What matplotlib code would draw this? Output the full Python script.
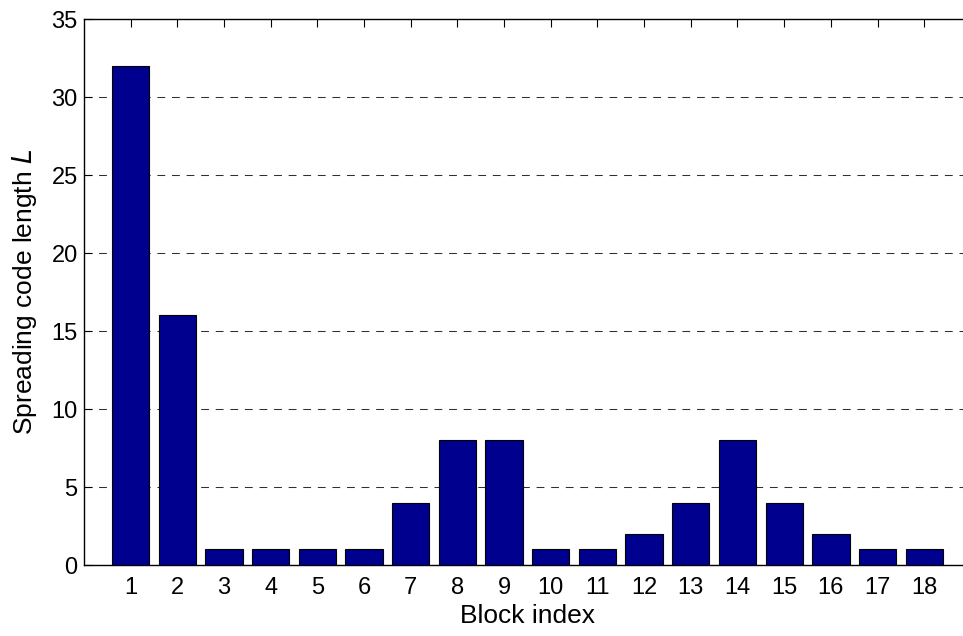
import matplotlib.pyplot as plt
import numpy as np

plt.rcParams['font.family'] = ['Liberation Sans', 'DejaVu Sans']

# data
blocks = list(range(1, 19))
code_length = [32, 16, 1, 1, 1, 1, 4, 8, 8, 1, 1, 2, 4, 8, 4, 2, 1, 1]
yticks = [0, 5, 10, 15, 20, 25, 30, 35]

fig = plt.figure(figsize=(9.63, 6.36), dpi=100)
ax = fig.add_axes([0.0872, 0.1116, 0.921, 0.8585])

ax.bar(blocks, code_length, width=0.8, color='#00008F', edgecolor='black', linewidth=0.8, zorder=3)

ax.set_xlim(0, 19)
ax.set_ylim(0, 35)
ax.set_xticks(blocks)
ax.set_yticks(yticks)
ax.tick_params(direction='in', length=5.5, width=0.8, labelsize=17,
               top=True, right=True)
ax.tick_params(axis='x', pad=8.5)
ax.tick_params(axis='y', pad=4.5)
ax.yaxis.grid(True, linestyle=(0, (7.5, 6.5)), color='#303030', linewidth=0.75, zorder=0)
for s in ax.spines.values():
    s.set_linewidth(1.0)

ax.set_xlabel('Block index', fontsize=19, labelpad=4)
ax.set_ylabel('Spreading code length $\\mathit{L}$', fontsize=19, labelpad=9)

plt.savefig('out.png', dpi=100)
